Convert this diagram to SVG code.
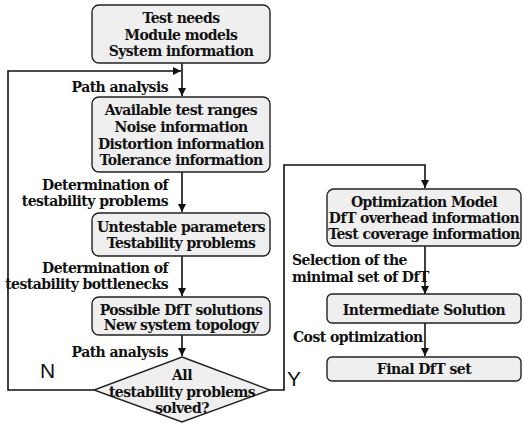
<svg xmlns="http://www.w3.org/2000/svg" width="523" height="423" viewBox="0 0 523 423">
<defs>
<marker id="ah" viewBox="0 0 10 10" refX="10" refY="5" markerWidth="8" markerHeight="8" markerUnits="userSpaceOnUse" orient="auto">
<path d="M0,0 L10,5 L0,10 z" fill="#111"/>
</marker>
</defs>
<style>
.box{fill:#efefef;stroke:#222;stroke-width:1.4}
.t{font-family:"DejaVu Serif","Liberation Serif",serif;font-weight:bold;font-size:14px;letter-spacing:-0.55px;fill:#111}
.c{text-anchor:middle}
.r{text-anchor:end}
.yn{font-family:"Liberation Sans",Arial,sans-serif;font-size:21px;fill:#111}
.ln{fill:none;stroke:#111;stroke-width:1.6}
</style>
<rect width="523" height="423" fill="#fff"/>
<g id="connectors">
<path class="ln" d="M182,63 V96" marker-end="url(#ah)"/>
<path class="ln" d="M94,390 H8 V71 H181" marker-end="url(#ah)"/>
<path class="ln" d="M182,172 V212" marker-end="url(#ah)"/>
<path class="ln" d="M182,256 V296" marker-end="url(#ah)"/>
<path class="ln" d="M182,335 V356" marker-end="url(#ah)"/>
<path class="ln" d="M270,390 H284 V165 H425 V188" marker-end="url(#ah)"/>
<path class="ln" d="M425,246 V294" marker-end="url(#ah)"/>
<path class="ln" d="M425,323 V356" marker-end="url(#ah)"/>
<text class="t r" x="168" y="92">Path analysis</text>
<text class="t r" x="168" y="190">Determination of</text>
<text class="t r" x="168" y="206">testability problems</text>
<text class="t r" x="168" y="273">Determination of</text>
<text class="t r" x="168" y="289">testability bottlenecks</text>
<text class="t r" x="168" y="357">Path analysis</text>
<text class="yn" x="40" y="378">N</text>
<text class="yn" x="287" y="386">Y</text>
<text class="t" x="292" y="265">Selection of the</text>
<text class="t" x="292" y="282">minimal set of DfT</text>
<text class="t" x="293" y="342">Cost optimization</text>
</g>
<g id="n1">
<rect class="box" x="92" y="5" width="178" height="58" rx="7"/>
<text class="t c" x="181" y="23">Test needs</text>
<text class="t c" x="181" y="40">Module models</text>
<text class="t c" x="181" y="56">System information</text>
</g>
<g id="n2">
<rect class="box" x="92" y="97" width="178" height="75" rx="7"/>
<text class="t c" x="181" y="115">Available test ranges</text>
<text class="t c" x="181" y="132">Noise information</text>
<text class="t c" x="181" y="149">Distortion information</text>
<text class="t c" x="181" y="165">Tolerance information</text>
</g>
<g id="n3">
<rect class="box" x="92" y="213" width="178" height="43" rx="7"/>
<text class="t c" x="181" y="232">Untestable parameters</text>
<text class="t c" x="181" y="248">Testability problems</text>
</g>
<g id="n4">
<rect class="box" x="92" y="297" width="178" height="38" rx="7"/>
<text class="t c" x="181" y="315">Possible DfT solutions</text>
<text class="t c" x="181" y="330">New system topology</text>
</g>
<g id="n5">
<path class="box" d="M182,357 L270,390 L182,422 L94,390 Z"/>
<text class="t c" x="182" y="380">All</text>
<text class="t c" x="182" y="397">testability problems</text>
<text class="t c" x="182" y="413">solved?</text>
</g>
<g id="n6">
<rect class="box" x="327" y="189" width="194" height="57" rx="7"/>
<text class="t c" x="424" y="207">Optimization Model</text>
<text class="t c" x="424" y="223">DfT overhead information</text>
<text class="t c" x="424" y="239">Test coverage information</text>
</g>
<g id="n7">
<rect class="box" x="327" y="294" width="194" height="29" rx="5"/>
<text class="t c" x="424" y="315">Intermediate Solution</text>
</g>
<g id="n8">
<rect class="box" x="327" y="357" width="194" height="24" rx="5"/>
<text class="t c" x="424" y="374">Final DfT set</text>
</g>
</svg>
